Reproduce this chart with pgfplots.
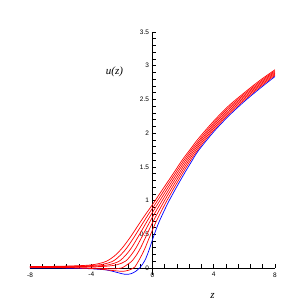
\documentclass[border=0pt]{standalone}
\usepackage{fontspec}
\setmainfont{Liberation Serif}
\setsansfont{Liberation Sans}
\usepackage{pgfplots}
\pgfplotsset{compat=1.18}
\begin{document}
\begin{tikzpicture}
\path[use as bounding box] (0,0) rectangle (306pt,306pt);
\begin{axis}[
  at={(30pt,31.3pt)}, anchor=south west,
  scale only axis, width=245pt, height=242.7pt,
  xmin=-8, xmax=8, ymin=-0.1, ymax=3.5,
  axis lines=middle,
  axis line style={-, line width=0.6pt},
  xtick={-8,-4,0,4,8}, xticklabels={-8,-4,0,4,8},
  minor xtick={-7.2,-6.4,-5.6,-4.8,-3.2,-2.4,-1.6,-0.8,0.8,1.6,2.4,3.2,4.8,5.6,6.4,7.2},
  ytick={0,0.5,1,1.5,2,2.5,3,3.5}, yticklabels={0,0.5,1,1.5,2,2.5,3,3.5},
  minor y tick num=4,
  tick align=inside, major tick length=3.5pt, minor tick length=3.5pt,
  tick style={black, line width=0.5pt},
  hide obscured x ticks=false, hide obscured y ticks=false,
  ticklabel style={font=\sffamily\fontsize{6.5}{7}\selectfont},
  xticklabel style={yshift=-1pt},
  yticklabel style={xshift=0pt},
  clip=false,
]
\addplot[blue, line width=0.7pt, smooth] table {
-8 0
-7 0
-6 -0.002
-5 -0.005
-4 -0.012
-3.5 -0.02
-3 -0.03
-2.5 -0.055
-2 -0.085
-1.7 -0.095
-1.4 -0.085
-1.1 -0.05
-0.8 0.01
-0.5 0.11
-0.25 0.25
0 0.42
0.25 0.58
0.5 0.72
1 0.96
1.5 1.17
2 1.37
2.5 1.56
3 1.74
4 2.02
5 2.26
6 2.47
7 2.66
8 2.84
};
\addplot[red, line width=0.7pt, smooth] table {
-8 0.01
-6 0.005
-5 0.0
-4 -0.008
-3.5 -0.015
-3 -0.028
-2.5 -0.04
-2 -0.05
-1.7 -0.042
-1.4 -0.02
-1.15 0.015
-1.05 0.05
-0.92 0.1
-0.682 0.2
-0.4745 0.3
-0.297 0.4
-0.117 0.5
0.067 0.6
0.264 0.7
0.483 0.8
0.708 0.9
0.942 1.0
1.44 1.2
1.958 1.4
2.499 1.6
3.112 1.8
3.826 2.0
4.64 2.2
5.549 2.4
6.57 2.6
7.669 2.8
8 2.857
};
\addplot[red, line width=0.7pt, smooth] table {
-8 0.01
-6 0.008
-5 0.005
-4 0.0
-3.2 -0.006
-2.7 -0.012
-2.3 -0.01
-2.0 0.0
-1.65 0.05
-1.353 0.1
-1.024 0.2
-0.773 0.3
-0.564 0.4
-0.358 0.5
-0.152 0.6
0.065 0.7
0.299 0.8
0.542 0.9
0.789 1.0
1.305 1.2
1.837 1.4
2.388 1.6
3.009 1.8
3.722 2.0
4.529 2.2
5.43 2.4
6.456 2.6
7.56 2.8
8 2.873
};
\addplot[red, line width=0.7pt, smooth] table {
-8 0.014
-6 0.015
-5 0.016
-4 0.018
-3.3 0.022
-2.8 0.03
-2.2775 0.05
-1.765 0.1
-1.366 0.2
-1.0715 0.3
-0.832 0.4
-0.6 0.5
-0.372 0.6
-0.136 0.7
0.115 0.8
0.375 0.9
0.636 1.0
1.17 1.2
1.716 1.4
2.276 1.6
2.907 1.8
3.619 2.0
4.419 2.2
5.312 2.4
6.342 2.6
7.452 2.8
8 2.89
};
\addplot[red, line width=0.7pt, smooth] table {
-8 0.016
-6 0.018
-5 0.02
-4 0.025
-3.3 0.035
-2.81 0.05
-2.177 0.1
-1.707 0.2
-1.37 0.3
-1.099 0.4
-0.841 0.5
-0.591 0.6
-0.335 0.7
-0.069 0.8
0.208 0.9
0.483 1.0
1.035 1.2
1.595 1.4
2.164 1.6
2.805 1.8
3.515 2.0
4.308 2.2
5.194 2.4
6.228 2.6
7.343 2.8
8 2.907
};
\addplot[red, line width=0.7pt, smooth] table {
-8 0.018
-6 0.022
-5 0.026
-4.2 0.033
-3.3425 0.05
-2.588 0.1
-2.049 0.2
-1.669 0.3
-1.366 0.4
-1.083 0.5
-0.81 0.6
-0.535 0.7
-0.254 0.8
0.042 0.9
0.329 1.0
0.90 1.2
1.474 1.4
2.053 1.6
2.702 1.8
3.412 2.0
4.198 2.2
5.075 2.4
6.114 2.6
7.234 2.8
8 2.923
};
\addplot[red, line width=0.7pt, smooth] table {
-8 0.02
-7 0.022
-6 0.026
-5 0.032
-4.5 0.037
-4 0.045
-3.5 0.065
-3 0.10
-2.5 0.175
-2 0.29
-1.5 0.44
-1 0.61
-0.5 0.78
0 0.94
0.5 1.11
1 1.28
1.5 1.45
2 1.62
2.5 1.77
3 1.92
4 2.18
5 2.41
6 2.6
7 2.78
8 2.94
};
\node[font=\itshape\fontsize{11}{11}\selectfont] at (axis cs:-2.48,2.91) {u(z)};
\node[font=\itshape\fontsize{11}{11}\selectfont] at (axis cs:3.92,-0.415) {z};
\end{axis}
\end{tikzpicture}
\end{document}
